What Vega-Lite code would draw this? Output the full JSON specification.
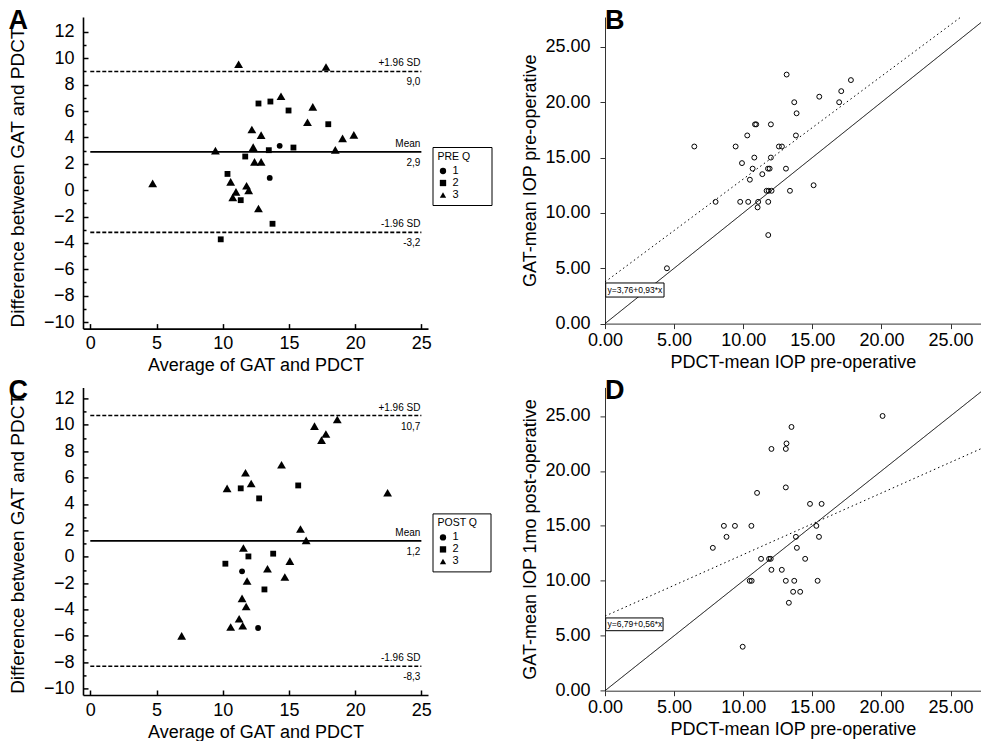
{
  "$schema": "https://vega.github.io/schema/vega-lite/v6.json",
  "padding": {"left": 8, "top": 6, "right": 0, "bottom": 0},
  "autosize": {"type": "pad"},
  "columns": 2,
  "spacing": {"column": 177, "row": 58.4},
  "bounds": "flush",
  "resolve": {
    "scale": {"shape": "independent", "strokeDash": "independent"},
    "legend": {"shape": "independent"}
  },
  "config": {
    "view": {"stroke": null},
    "font": "Liberation Sans",
    "axis": {
      "grid": false,
      "labelFont": "Liberation Sans",
      "titleFont": "Liberation Sans",
      "titleFontWeight": "normal",
      "labelColor": "black",
      "titleColor": "black",
      "labelFlush": false,
      "labelOverlap": false
    },
    "title": {
      "font": "Liberation Sans Narrow, Liberation Sans, sans-serif",
      "fontSize": 27,
      "fontWeight": "bold",
      "color": "black"
    }
  },
  "datasets": {
    "pre_ba": [
      {"avg": 11.2, "diff": 9.55, "q": "3"}, {"avg": 17.8, "diff": 9.34, "q": "3"},
      {"avg": 14.4, "diff": 7.12, "q": "3"}, {"avg": 16.8, "diff": 6.31, "q": "3"},
      {"avg": 16.4, "diff": 5.15, "q": "3"}, {"avg": 12.2, "diff": 4.6, "q": "3"},
      {"avg": 12.9, "diff": 4.17, "q": "3"}, {"avg": 19.9, "diff": 4.19, "q": "3"},
      {"avg": 19.05, "diff": 3.92, "q": "3"}, {"avg": 9.45, "diff": 3.0, "q": "3"},
      {"avg": 12.3, "diff": 3.26, "q": "3"}, {"avg": 18.5, "diff": 3.05, "q": "3"},
      {"avg": 12.4, "diff": 2.14, "q": "3"}, {"avg": 12.9, "diff": 2.14, "q": "3"},
      {"avg": 4.71, "diff": 0.51, "q": "3"}, {"avg": 10.6, "diff": 0.63, "q": "3"},
      {"avg": 11.8, "diff": 0.33, "q": "3"}, {"avg": 11.96, "diff": -0.02, "q": "3"},
      {"avg": 11.0, "diff": -0.13, "q": "3"}, {"avg": 10.76, "diff": -0.55, "q": "3"},
      {"avg": 12.7, "diff": -1.39, "q": "3"},
      {"avg": 12.7, "diff": 6.57, "q": "2"}, {"avg": 13.6, "diff": 6.72, "q": "2"},
      {"avg": 14.97, "diff": 6.04, "q": "2"}, {"avg": 17.97, "diff": 5.0, "q": "2"},
      {"avg": 13.48, "diff": 3.03, "q": "2"}, {"avg": 15.34, "diff": 3.23, "q": "2"},
      {"avg": 11.7, "diff": 2.55, "q": "2"}, {"avg": 10.36, "diff": 1.23, "q": "2"},
      {"avg": 11.36, "diff": -0.76, "q": "2"}, {"avg": 13.76, "diff": -2.55, "q": "2"},
      {"avg": 9.85, "diff": -3.73, "q": "2"},
      {"avg": 14.3, "diff": 3.36, "q": "1"}, {"avg": 13.55, "diff": 0.93, "q": "1"}
    ],
    "post_ba": [
      {"avg": 18.65, "diff": 10.4, "q": "3"}, {"avg": 16.93, "diff": 9.9, "q": "3"},
      {"avg": 17.79, "diff": 9.3, "q": "3"}, {"avg": 17.46, "diff": 8.84, "q": "3"},
      {"avg": 14.44, "diff": 6.97, "q": "3"}, {"avg": 11.72, "diff": 6.36, "q": "3"},
      {"avg": 12.15, "diff": 5.55, "q": "3"}, {"avg": 10.33, "diff": 5.18, "q": "3"},
      {"avg": 22.45, "diff": 4.85, "q": "3"}, {"avg": 15.87, "diff": 2.1, "q": "3"},
      {"avg": 16.3, "diff": 1.24, "q": "3"}, {"avg": 11.56, "diff": 0.66, "q": "3"},
      {"avg": 15.07, "diff": -0.33, "q": "3"}, {"avg": 13.38, "diff": -0.91, "q": "3"},
      {"avg": 14.69, "diff": -1.54, "q": "3"}, {"avg": 11.84, "diff": -1.84, "q": "3"},
      {"avg": 11.46, "diff": -3.16, "q": "3"}, {"avg": 11.77, "diff": -3.77, "q": "3"},
      {"avg": 11.24, "diff": -4.7, "q": "3"}, {"avg": 11.51, "diff": -5.23, "q": "3"},
      {"avg": 10.6, "diff": -5.33, "q": "3"}, {"avg": 6.9, "diff": -6.0, "q": "3"},
      {"avg": 11.36, "diff": 5.18, "q": "2"}, {"avg": 15.7, "diff": 5.4, "q": "2"},
      {"avg": 12.75, "diff": 4.42, "q": "2"}, {"avg": 13.81, "diff": 0.23, "q": "2"},
      {"avg": 11.94, "diff": 0.02, "q": "2"}, {"avg": 10.2, "diff": -0.53, "q": "2"},
      {"avg": 13.15, "diff": -2.48, "q": "2"},
      {"avg": 11.46, "diff": -1.11, "q": "1"}, {"avg": 12.67, "diff": -5.4, "q": "1"}
    ],
    "pre_lines": [
      {"value": 9.0, "label": "+1.96 SD", "vlabel": "9,0", "kind": "sd"},
      {"value": 2.9, "label": "Mean", "vlabel": "2,9", "kind": "mean"},
      {"value": -3.2, "label": "-1.96 SD", "vlabel": "-3,2", "kind": "sd"}
    ],
    "post_lines": [
      {"value": 10.7, "label": "+1.96 SD", "vlabel": "10,7", "kind": "sd"},
      {"value": 1.2, "label": "Mean", "vlabel": "1,2", "kind": "mean"},
      {"value": -8.3, "label": "-1.96 SD", "vlabel": "-8,3", "kind": "sd"}
    ],
    "pre_sc": [
      {"pdct": 13.14, "gat": 22.5}, {"pdct": 17.79, "gat": 22}, {"pdct": 17.09, "gat": 21},
      {"pdct": 15.5, "gat": 20.5}, {"pdct": 13.69, "gat": 20}, {"pdct": 16.94, "gat": 20},
      {"pdct": 13.86, "gat": 19}, {"pdct": 10.85, "gat": 18}, {"pdct": 10.94, "gat": 18},
      {"pdct": 12.0, "gat": 18}, {"pdct": 10.29, "gat": 17}, {"pdct": 13.81, "gat": 17},
      {"pdct": 6.46, "gat": 16}, {"pdct": 9.45, "gat": 16}, {"pdct": 12.58, "gat": 16},
      {"pdct": 12.8, "gat": 16}, {"pdct": 10.8, "gat": 15}, {"pdct": 12.0, "gat": 15},
      {"pdct": 9.91, "gat": 14.5}, {"pdct": 10.68, "gat": 14}, {"pdct": 11.79, "gat": 14},
      {"pdct": 11.91, "gat": 14}, {"pdct": 13.09, "gat": 14}, {"pdct": 11.38, "gat": 13.5},
      {"pdct": 10.48, "gat": 13}, {"pdct": 15.09, "gat": 12.5}, {"pdct": 11.69, "gat": 12},
      {"pdct": 11.84, "gat": 12}, {"pdct": 12.05, "gat": 12}, {"pdct": 13.38, "gat": 12},
      {"pdct": 8.0, "gat": 11}, {"pdct": 9.78, "gat": 11}, {"pdct": 10.36, "gat": 11},
      {"pdct": 11.08, "gat": 11}, {"pdct": 11.81, "gat": 11}, {"pdct": 11.04, "gat": 10.5},
      {"pdct": 11.81, "gat": 8}, {"pdct": 4.48, "gat": 5}
    ],
    "post_sc": [
      {"pdct": 20.08, "gat": 25}, {"pdct": 13.49, "gat": 24}, {"pdct": 13.13, "gat": 22.5},
      {"pdct": 12.04, "gat": 22}, {"pdct": 13.08, "gat": 22}, {"pdct": 13.08, "gat": 18.5},
      {"pdct": 11.0, "gat": 18}, {"pdct": 14.83, "gat": 17}, {"pdct": 15.67, "gat": 17},
      {"pdct": 8.6, "gat": 15}, {"pdct": 9.4, "gat": 15}, {"pdct": 10.59, "gat": 15},
      {"pdct": 15.29, "gat": 15}, {"pdct": 8.79, "gat": 14}, {"pdct": 13.81, "gat": 14},
      {"pdct": 15.48, "gat": 14}, {"pdct": 7.8, "gat": 13}, {"pdct": 13.88, "gat": 13},
      {"pdct": 11.29, "gat": 12}, {"pdct": 11.87, "gat": 12}, {"pdct": 11.99, "gat": 12},
      {"pdct": 14.48, "gat": 12}, {"pdct": 12.04, "gat": 11}, {"pdct": 12.79, "gat": 11},
      {"pdct": 10.47, "gat": 10}, {"pdct": 10.61, "gat": 10}, {"pdct": 13.08, "gat": 10},
      {"pdct": 13.69, "gat": 10}, {"pdct": 15.38, "gat": 10}, {"pdct": 13.61, "gat": 9},
      {"pdct": 14.12, "gat": 9}, {"pdct": 13.3, "gat": 8}, {"pdct": 9.96, "gat": 4}
    ],
    "pre_fit": [
      {"x1": 0, "y1": 0, "x2": 27.2, "y2": 27.2, "kind": "identity"},
      {"x1": 0, "y1": 3.76, "x2": 25.75, "y2": 27.7, "kind": "fit"}
    ],
    "post_fit": [
      {"x1": 0, "y1": 0, "x2": 27.2, "y2": 27.2, "kind": "identity"},
      {"x1": 0, "y1": 6.79, "x2": 27.2, "y2": 22.02, "kind": "fit"}
    ],
    "pre_eq": [{"eq": "y=3,76+0,93*x"}],
    "post_eq": [{"eq": "y=6,79+0,56*x"}]
  },
  "concat": [
    {
      "width": 345,
      "height": 311.6,
      "title": {"text": "A", "anchor": "start", "frame": "bounds", "offset": -18},
      "resolve": {"axis": {"y": "independent"}},
      "layer": [
        {
          "layer": [
            {
              "data": {"name": "pre_lines"},
              "mark": {"type": "rule", "color": "black", "strokeWidth": 1.6},
              "encoding": {
                "x": {"datum": 0, "type": "quantitative",
                  "scale": {"domain": [-0.55, 25.5], "nice": false, "zero": false},
                  "axis": {"values": [0, 5, 10, 15, 20, 25], "tickCount": 100, "format": "d", "title": "Average of GAT and PDCT",
                    "tickSize": -5, "tickWidth": 1.5, "tickColor": "black", "domainColor": "black",
                    "domainWidth": 1.6, "labelFontSize": 18, "labelPadding": 11, "titleFontSize": 18, "titlePadding": 4}},
                "x2": {"datum": 25},
                "y": {"field": "value", "type": "quantitative",
                  "scale": {"domain": [-10.5, 13.13], "nice": false, "zero": false},
                  "axis": {"orient": "left", "values": [-10, -8, -6, -4, -2, 0, 2, 4, 6, 8, 10, 12], "tickCount": 100, "format": "d",
                    "labelOverlap": false, "tickSize": -5,
                    "tickWidth": 1.5, "tickColor": "black", "domainColor": "black", "domainWidth": 1.6,
                    "labelFontSize": 18, "labelPadding": 14, "title": "Difference between GAT and PDCT",
                    "titleFontSize": 19, "titleY": 160, "titlePadding": 16}},
                "strokeDash": {"field": "kind", "type": "nominal",
                  "scale": {"domain": ["sd", "mean"], "range": [[4, 2], [1, 0]]}, "legend": null}
              }
            },
            {
              "data": {"name": "pre_lines"},
              "mark": {"type": "text", "align": "right", "baseline": "bottom", "dy": -3, "dx": -1, "fontSize": 10, "color": "black"},
              "encoding": {
                "x": {"datum": 25, "type": "quantitative"},
                "y": {"field": "value", "type": "quantitative"},
                "text": {"field": "label"}
              }
            },
            {
              "data": {"name": "pre_lines"},
              "mark": {"type": "text", "align": "right", "baseline": "top", "dy": 6, "dx": -1, "fontSize": 10, "color": "black"},
              "encoding": {
                "x": {"datum": 25, "type": "quantitative"},
                "y": {"field": "value", "type": "quantitative"},
                "text": {"field": "vlabel"}
              }
            },
            {
              "data": {"name": "pre_ba"},
              "mark": {"type": "point", "filled": true, "color": "black", "opacity": 1, "strokeWidth": 0},
              "encoding": {
                "x": {"field": "avg", "type": "quantitative"},
                "y": {"field": "diff", "type": "quantitative"},
                "shape": {"field": "q", "type": "nominal",
                  "scale": {"domain": ["1", "2", "3"], "range": ["circle", "square", "triangle-up"]},
                  "legend": {"title": "PRE Q\u2800\u2800", "orient": "none", "legendX": 349.5, "legendY": 130,
                    "strokeColor": "black", "padding": 5, "titleFontSize": 10.5, "titleFontWeight": "normal",
                    "titleColor": "black", "labelColor": "black", "labelFontSize": 11, "symbolSize": 40,
                    "symbolFillColor": "black", "symbolStrokeWidth": 0, "rowPadding": 0, "titlePadding": 3}},
                "size": {"condition": {"test": "datum.q === '3'", "value": 78}, "value": 34}
              }
            }
          ]
        },
        {
          "data": {"name": "pre_lines"},
          "mark": {"type": "rule", "strokeOpacity": 0},
          "encoding": {
            "x": {"datum": 0, "type": "quantitative"},
            "x2": {"datum": 25},
            "y": {"field": "value", "type": "quantitative",
              "axis": {"orient": "left", "values": [-9, -7, -5, -3, -1, 1, 3, 5, 7, 9, 11], "tickCount": 100,
                "labels": false, "domain": false, "tickSize": -3, "tickWidth": 1.5,
                "tickColor": "black", "title": null, "grid": false}}
          }
        }
      ]
    },
    {
      "width": 376,
      "height": 306.6,
      "title": {"text": "B", "anchor": "start", "frame": "group", "offset": -18},
      "layer": [
        {
          "data": {"name": "pre_fit"},
          "mark": {"type": "rule", "color": "black", "strokeWidth": 1},
          "encoding": {
            "x": {"field": "x1", "type": "quantitative",
              "scale": {"domain": [0, 27.2], "nice": false},
              "axis": {"values": [0, 5, 10, 15, 20, 25], "format": ".2f", "title": "PDCT-mean IOP pre-operative",
                "tickSize": 5, "tickColor": "#333", "domainColor": "#333", "labelFontSize": 18,
                "labelPadding": 3, "titleFontSize": 18, "titlePadding": 4}},
            "x2": {"field": "x2"},
            "y": {"field": "y1", "type": "quantitative",
              "scale": {"domain": [0, 27.7], "nice": false},
              "axis": {"values": [0, 5, 10, 15, 20, 25], "format": ".2f", "title": "GAT-mean IOP pre-operative",
                "tickSize": 5, "tickColor": "#333", "domainColor": "#333", "labelFontSize": 18,
                "labelPadding": 10, "titleFontSize": 18, "titlePadding": 5}},
            "y2": {"field": "y2"},
            "strokeDash": {"field": "kind", "type": "nominal",
              "scale": {"domain": ["identity", "fit"], "range": [[1, 0], [1.5, 3]]}, "legend": null}
          }
        },
        {
          "data": {"name": "pre_sc"},
          "mark": {"type": "point", "shape": "circle", "filled": false, "color": "black", "size": 24, "strokeWidth": 1, "opacity": 1},
          "encoding": {
            "x": {"field": "pdct", "type": "quantitative"},
            "y": {"field": "gat", "type": "quantitative"}
          }
        },
        {
          "data": {"name": "pre_eq"},
          "mark": {"type": "rect", "fill": "white", "stroke": "black", "strokeWidth": 1},
          "encoding": {
            "x": {"datum": 0.05, "type": "quantitative"},
            "x2": {"datum": 4.27},
            "y": {"datum": 3.67, "type": "quantitative"},
            "y2": {"datum": 2.4}
          }
        },
        {
          "data": {"name": "pre_eq"},
          "mark": {"type": "text", "align": "left", "baseline": "middle", "fontSize": 8.5, "color": "black"},
          "encoding": {
            "x": {"datum": 0.18, "type": "quantitative"},
            "y": {"datum": 3.03, "type": "quantitative"},
            "text": {"field": "eq"}
          }
        }
      ]
    },
    {
      "width": 345,
      "height": 307.6,
      "title": {"text": "C", "anchor": "start", "frame": "bounds", "offset": -18},
      "resolve": {"axis": {"y": "independent"}},
      "layer": [
        {
          "layer": [
            {
              "data": {"name": "post_lines"},
              "mark": {"type": "rule", "color": "black", "strokeWidth": 1.6},
              "encoding": {
                "x": {"datum": 0, "type": "quantitative",
                  "scale": {"domain": [-0.55, 25.5], "nice": false, "zero": false},
                  "axis": {"values": [0, 5, 10, 15, 20, 25], "tickCount": 100, "format": "d", "title": "Average of GAT and PDCT",
                    "tickSize": -5, "tickWidth": 1.5, "tickColor": "black", "domainColor": "black",
                    "domainWidth": 1.6, "labelFontSize": 18, "labelPadding": 11, "titleFontSize": 18, "titlePadding": 4}},
                "x2": {"datum": 25},
                "y": {"field": "value", "type": "quantitative",
                  "scale": {"domain": [-10.48, 12.83], "nice": false, "zero": false},
                  "axis": {"orient": "left", "values": [-10, -8, -6, -4, -2, 0, 2, 4, 6, 8, 10, 12], "tickCount": 100, "format": "d",
                    "labelOverlap": false, "tickSize": -5,
                    "tickWidth": 1.5, "tickColor": "black", "domainColor": "black", "domainWidth": 1.6,
                    "labelFontSize": 18, "labelPadding": 14, "title": "Difference between GAT and PDCT",
                    "titleFontSize": 19, "titleY": 156, "titlePadding": 16}},
                "strokeDash": {"field": "kind", "type": "nominal",
                  "scale": {"domain": ["sd", "mean"], "range": [[4, 2], [1, 0]]}, "legend": null}
              }
            },
            {
              "data": {"name": "post_lines"},
              "mark": {"type": "text", "align": "right", "baseline": "bottom", "dy": -3, "dx": -1, "fontSize": 10, "color": "black"},
              "encoding": {
                "x": {"datum": 25, "type": "quantitative"},
                "y": {"field": "value", "type": "quantitative"},
                "text": {"field": "label"}
              }
            },
            {
              "data": {"name": "post_lines"},
              "mark": {"type": "text", "align": "right", "baseline": "top", "dy": 6, "dx": -1, "fontSize": 10, "color": "black"},
              "encoding": {
                "x": {"datum": 25, "type": "quantitative"},
                "y": {"field": "value", "type": "quantitative"},
                "text": {"field": "vlabel"}
              }
            },
            {
              "data": {"name": "post_ba"},
              "mark": {"type": "point", "filled": true, "color": "black", "opacity": 1, "strokeWidth": 0},
              "encoding": {
                "x": {"field": "avg", "type": "quantitative"},
                "y": {"field": "diff", "type": "quantitative"},
                "shape": {"field": "q", "type": "nominal",
                  "scale": {"domain": ["1", "2", "3"], "range": ["circle", "square", "triangle-up"]},
                  "legend": {"title": "POST Q\u2800", "orient": "none", "legendX": 349.5, "legendY": 126,
                    "strokeColor": "black", "padding": 5, "titleFontSize": 10.5, "titleFontWeight": "normal",
                    "titleColor": "black", "labelColor": "black", "labelFontSize": 11, "symbolSize": 40,
                    "symbolFillColor": "black", "symbolStrokeWidth": 0, "rowPadding": 0, "titlePadding": 3}},
                "size": {"condition": {"test": "datum.q === '3'", "value": 78}, "value": 34}
              }
            }
          ]
        },
        {
          "data": {"name": "post_lines"},
          "mark": {"type": "rule", "strokeOpacity": 0},
          "encoding": {
            "x": {"datum": 0, "type": "quantitative"},
            "x2": {"datum": 25},
            "y": {"field": "value", "type": "quantitative",
              "axis": {"orient": "left", "values": [-9, -7, -5, -3, -1, 1, 3, 5, 7, 9, 11], "tickCount": 100,
                "labels": false, "domain": false, "tickSize": -3, "tickWidth": 1.5,
                "tickColor": "black", "title": null, "grid": false}}
          }
        }
      ]
    },
    {
      "width": 376,
      "height": 303.3,
      "title": {"text": "D", "anchor": "start", "frame": "group", "offset": -18},
      "layer": [
        {
          "data": {"name": "post_fit"},
          "mark": {"type": "rule", "color": "black", "strokeWidth": 1},
          "encoding": {
            "x": {"field": "x1", "type": "quantitative",
              "scale": {"domain": [0, 27.2], "nice": false},
              "axis": {"values": [0, 5, 10, 15, 20, 25], "format": ".2f", "title": "PDCT-mean IOP pre-operative",
                "tickSize": 5, "tickColor": "#333", "domainColor": "#333", "labelFontSize": 18,
                "labelPadding": 3, "titleFontSize": 18, "titlePadding": 4}},
            "x2": {"field": "x2"},
            "y": {"field": "y1", "type": "quantitative",
              "scale": {"domain": [0, 27.6], "nice": false},
              "axis": {"values": [0, 5, 10, 15, 20, 25], "format": ".2f", "title": "GAT-mean IOP 1mo post-operative",
                "tickSize": 5, "tickColor": "#333", "domainColor": "#333", "labelFontSize": 18,
                "labelPadding": 10, "titleFontSize": 18, "titlePadding": 5}},
            "y2": {"field": "y2"},
            "strokeDash": {"field": "kind", "type": "nominal",
              "scale": {"domain": ["identity", "fit"], "range": [[1, 0], [1.5, 3]]}, "legend": null}
          }
        },
        {
          "data": {"name": "post_sc"},
          "mark": {"type": "point", "shape": "circle", "filled": false, "color": "black", "size": 24, "strokeWidth": 1, "opacity": 1},
          "encoding": {
            "x": {"field": "pdct", "type": "quantitative"},
            "y": {"field": "gat", "type": "quantitative"}
          }
        },
        {
          "data": {"name": "post_eq"},
          "mark": {"type": "rect", "fill": "white", "stroke": "black", "strokeWidth": 1},
          "encoding": {
            "x": {"datum": 0.05, "type": "quantitative"},
            "x2": {"datum": 4.2},
            "y": {"datum": 6.62, "type": "quantitative"},
            "y2": {"datum": 5.46}
          }
        },
        {
          "data": {"name": "post_eq"},
          "mark": {"type": "text", "align": "left", "baseline": "middle", "fontSize": 8.5, "color": "black"},
          "encoding": {
            "x": {"datum": 0.18, "type": "quantitative"},
            "y": {"datum": 6.04, "type": "quantitative"},
            "text": {"field": "eq"}
          }
        }
      ]
    }
  ]
}
